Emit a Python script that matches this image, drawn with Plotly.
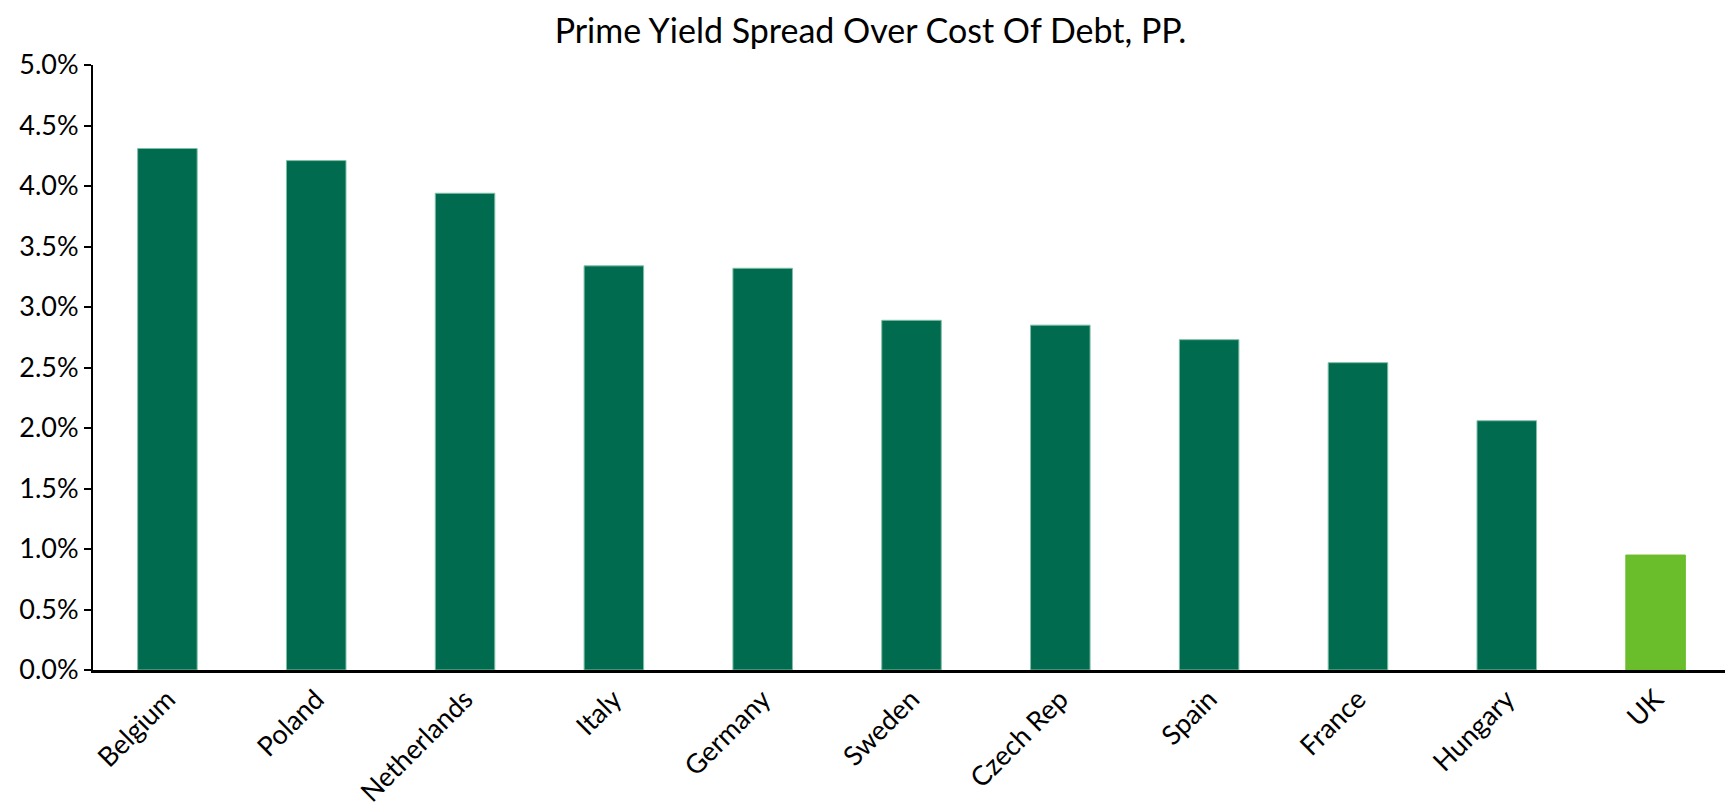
import plotly.graph_objects as go

categories = ["Belgium", "Poland", "Netherlands", "Italy", "Germany", "Sweden",
              "Czech Rep", "Spain", "France", "Hungary", "UK"]
values = [0.0431, 0.0421, 0.0394, 0.0334, 0.0332, 0.0289, 0.0285, 0.0273, 0.0254, 0.0206, 0.0095]
colors = ["#006B4E"] * 10 + ["#6ABD2B"]
line_colors = ["#7FBFA5"] * 10 + ["#6ABD2B"]
y_ticks = [0, 0.005, 0.01, 0.015, 0.02, 0.025, 0.03, 0.035, 0.04, 0.045, 0.05]

fig = go.Figure(go.Bar(
    x=categories, y=values,
    marker=dict(color=colors, line=dict(color=line_colors, width=1)),
    width=0.4,
))

font_family = "Lato, 'Open Sans', sans-serif"
# page body has an 8px margin, so figure is sized/offset to compensate
fig.update_layout(
    width=1725, height=803,
    paper_bgcolor="white", plot_bgcolor="white",
    margin=dict(l=85, r=3, t=57, b=141),
    showlegend=False,
    font=dict(family=font_family, size=26, color="black"),
    title=dict(text="Prime Yield Spread Over Cost Of Debt, PP.", x=0.5, xanchor="center",
               y=0.971, yanchor="middle", font=dict(size=34, color="black", family=font_family)),
    bargap=0.6,
)
fig.update_xaxes(
    showline=True, linecolor="black", linewidth=2.5, ticks="", tickangle=-45,
    tickfont=dict(size=27), showgrid=False,
)
fig.update_yaxes(
    range=[0, 0.05], tickvals=y_ticks, tickformat=".1%",
    showline=True, linecolor="black", linewidth=2, ticks="outside", ticklen=7,
    tickcolor="black", tickwidth=2, showgrid=False, zeroline=False,
    tickfont=dict(size=27), automargin=False,
)
fig.write_html("out.html")
